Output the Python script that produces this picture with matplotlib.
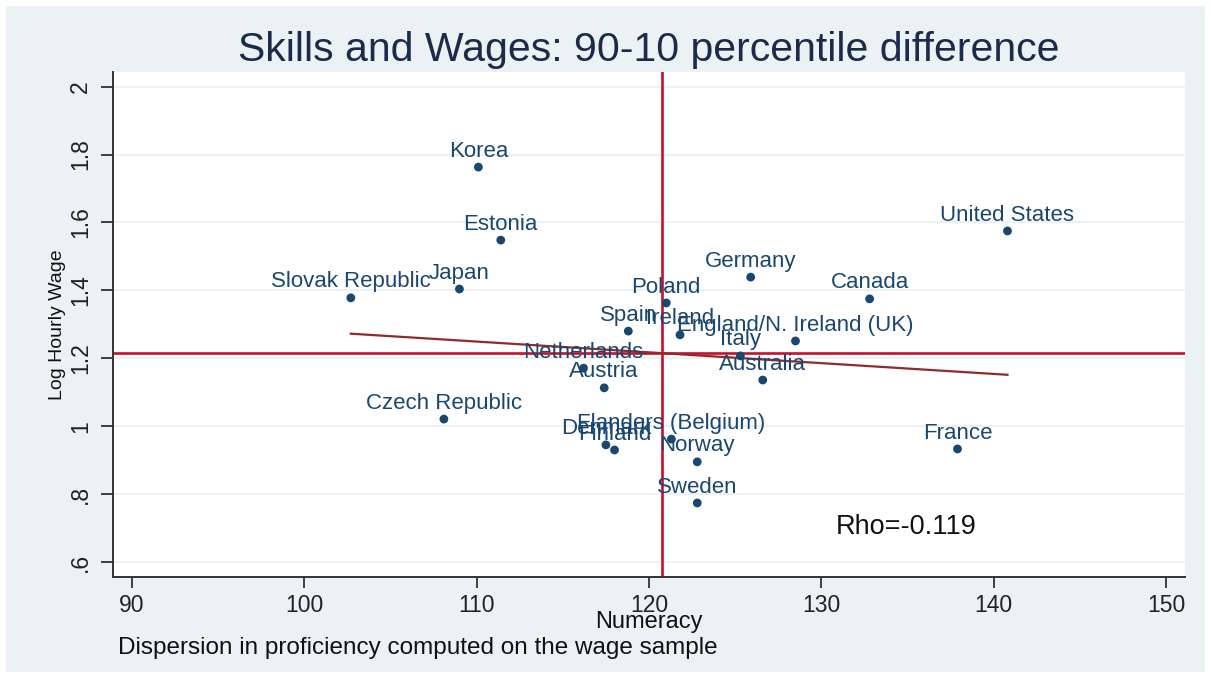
import numpy as np
import matplotlib
matplotlib.use('Agg')
import matplotlib.pyplot as plt
from matplotlib.patches import Rectangle

plt.rcParams['font.family'] = ['Liberation Sans', 'DejaVu Sans']

# values
countries = ['Korea', 'Estonia', 'United States', 'Germany', 'Slovak Republic', 'Japan',
             'Poland', 'Canada', 'Spain', 'Ireland', 'England/N. Ireland (UK)', 'Italy',
             'Netherlands', 'Austria', 'Australia', 'Czech Republic', 'Flanders (Belgium)',
             'Denmark', 'Finland', 'Norway', 'Sweden', 'France']
numeracy = [110.1, 111.4, 140.8, 125.9, 102.7, 109.0,
            121.0, 132.8, 118.8, 121.8, 128.5, 125.3,
            116.2, 117.4, 126.6, 108.1, 121.3,
            117.5, 118.0, 122.8, 122.8, 137.9]
log_wage = [1.763, 1.548, 1.575, 1.439, 1.378, 1.404,
            1.363, 1.375, 1.280, 1.269, 1.251, 1.207,
            1.171, 1.113, 1.136, 1.021, 0.962,
            0.945, 0.930, 0.895, 0.774, 0.933]
x_ticks = [90, 100, 110, 120, 130, 140, 150]
y_ticks = [0.6, 0.8, 1.0, 1.2, 1.4, 1.6, 1.8, 2.0]
y_tick_labels = ['.6', '.8', '1', '1.2', '1.4', '1.6', '1.8', '2']
rho_text = 'Rho=-0.119'

bg = '#eaf2f3'
navy = '#1a476f'
red = '#c8102e'
fit_col = '#8f2a2e'

x = np.array(numeracy)
y = np.array(log_wage)

fig = plt.figure(figsize=(12.11, 6.78), dpi=100)
fig.patch.set_facecolor('white')
fig.add_artist(Rectangle((6 / 1211, 6 / 678), 1 - 12 / 1211, 1 - 12 / 678,
                         transform=fig.transFigure, facecolor=bg, edgecolor='none', zorder=-5))

ax = fig.add_axes([113 / 1211, 1 - 577 / 678, (1185 - 113) / 1211, (577 - 72) / 678])
ax.set_facecolor('white')
ax.set_xlim(88.9, 151.1)
ax.set_ylim(0.556, 2.043)

for t in y_ticks:
    ax.axhline(t, color=bg, lw=1.5, zorder=1)

# mean lines
ax.axvline(x.mean(), color=red, lw=1.9, zorder=2)
ax.axhline(y.mean(), color=red, lw=1.9, zorder=2)

# linear fit
b, a = np.polyfit(x, y, 1)
xs = np.array([x.min(), x.max()])
ax.plot(xs, a + b * xs, color=fit_col, lw=1.6, zorder=3)

ax.scatter(x, y, s=40, color=navy, zorder=4, edgecolors='none')
for name, xi, yi in zip(countries, numeracy, log_wage):
    ax.annotate(name, (xi, yi), xytext=(0, 7.5), textcoords='offset points',
                ha='center', va='baseline', fontsize=16, color=navy, zorder=5)

ax.text(130.86, 0.703, rho_text, ha='left', va='center', fontsize=19.5, color='#111111')

ax.set_xticks(x_ticks)
ax.set_yticks(y_ticks)
ax.set_yticklabels(y_tick_labels, rotation=90, va='center')
ax.tick_params(axis='both', direction='out', width=1.2, colors='#222222', labelsize=16.5)
ax.tick_params(axis='x', length=8, pad=4)
ax.tick_params(axis='y', length=9, pad=6)
for s in ['top', 'right']:
    ax.spines[s].set_visible(False)
for s in ['left', 'bottom']:
    ax.spines[s].set_color('#333333')
    ax.spines[s].set_linewidth(1.4)

ax.set_ylabel('Log Hourly Wage', fontsize=14, color='#111111', labelpad=2)
ax.set_xlabel('Numeracy', fontsize=17, color='#111111', labelpad=-4)
ax.set_title('Skills and Wages: 90-10 percentile difference', fontsize=29.5,
             color='#1c2b4a', pad=8)
fig.text(118 / 1211, 1 - 648 / 678, 'Dispersion in proficiency computed on the wage sample',
         ha='left', va='center', fontsize=17.5, color='#111111')

fig.savefig('out.png', dpi=100, facecolor=fig.get_facecolor())
